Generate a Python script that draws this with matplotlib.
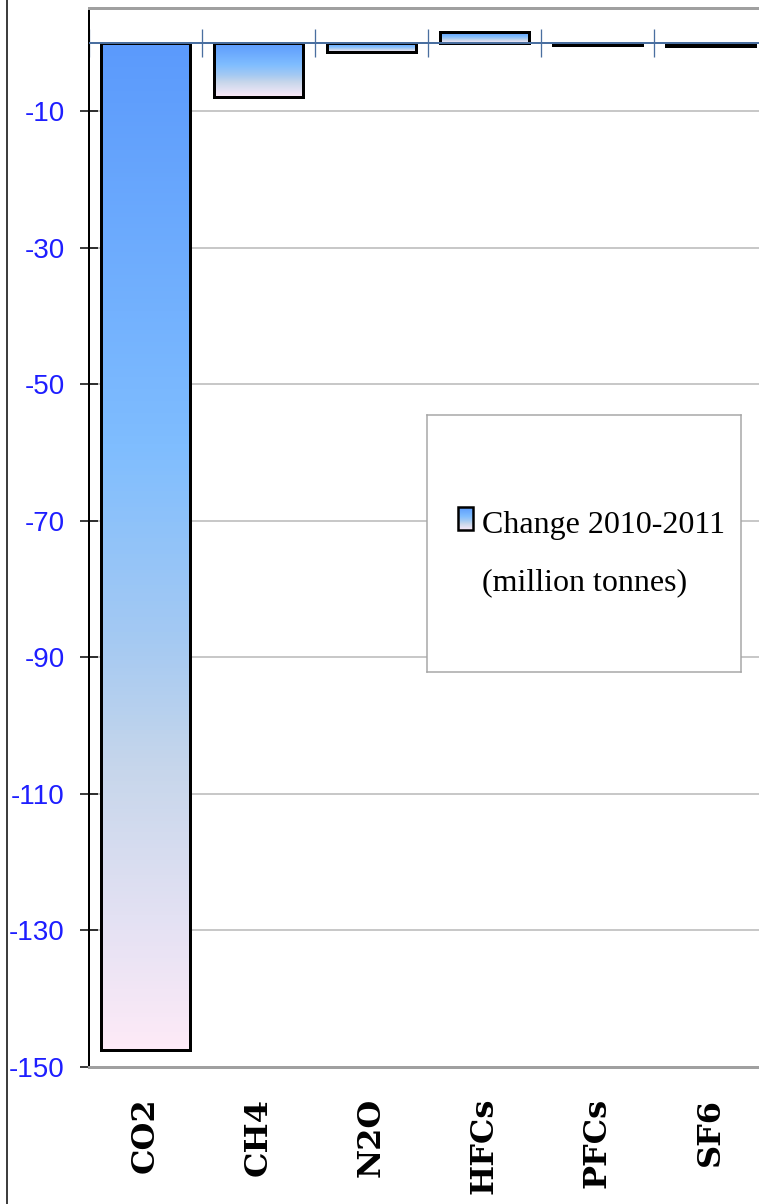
import numpy as np
import matplotlib
matplotlib.use("Agg")
import matplotlib.pyplot as plt
from matplotlib.colors import LinearSegmentedColormap
from matplotlib.lines import Line2D

# ---- data ----
gases = ["CO2", "CH4", "N2O", "HFCs", "PFCs", "SF6"]
change = [-147.5, -7.9, -1.3, 1.6, -0.3, -0.5]
yticks = [-10, -30, -50, -70, -90, -110, -130, -150]
ytick_labels = ["-10", "-30", "-50", "-70", "-90", "-110", "-130", "-150"]
legend_label = "Change 2010-2011\n(million tonnes)"

W, H = 759, 1204
DPI = 100
fig = plt.figure(figsize=(W / DPI, H / DPI), dpi=DPI)
fig.patch.set_facecolor("white")

def px(v):  # pixels -> points
    return v * 72.0 / DPI

ymin, ymax = -150, 5.1
ax_left, ax_right, ax_top, ax_bot = 89, 767, 8, 1067
ax = fig.add_axes([ax_left / W, 1 - ax_bot / H, (ax_right - ax_left) / W, (ax_bot - ax_top) / H])

grad_cmap = LinearSegmentedColormap.from_list(
    "bargrad",
    [(0.0, "#5B9AFC"), (0.40, "#7FBDFF"), (0.60, "#A6CAF2"),
     (0.72, "#C6D6EB"), (0.87, "#E3E1F3"), (1.0, "#FDEAF7")])
grad = np.linspace(0, 1, 256).reshape(-1, 1)

x = np.arange(len(gases))
bars = ax.bar(x, change, width=0.78, facecolor="none", edgecolor="black",
              linewidth=px(3), zorder=3)
for b in bars:
    x0, y0 = b.get_x(), b.get_y()
    w, h = b.get_width(), b.get_height()
    top, bot = max(y0, y0 + h), min(y0, y0 + h)
    im = ax.imshow(grad, extent=[x0, x0 + w, bot, top], origin="upper",
                   aspect="auto", cmap=grad_cmap, zorder=2, interpolation="bilinear")
    im.set_clip_path(b)

ax.set_xlim(-0.5, len(gases) - 0.5)
ax.set_ylim(ymin, ymax)

# y axis
ax.set_yticks(yticks)
ax.set_yticklabels(ytick_labels, color="#1E1EFF", fontsize=20,
                   family=["Liberation Sans", "DejaVu Sans"])
ax.tick_params(axis="y", direction="inout", length=px(18), width=px(1.5),
               color="black", pad=11)
ax.yaxis.grid(True, color="#C8C8C8", linewidth=px(2), zorder=0)
ax.set_axisbelow(True)

# x axis labels at bottom
ax.set_xticks(x)
ax.set_xticklabels(gases, rotation=90, fontsize=23, fontweight="bold",
                   family="DejaVu Serif")
ax.tick_params(axis="x", length=0, pad=22)

# spines
ax.spines["left"].set_color("black")
ax.spines["left"].set_linewidth(px(2))
for s in ("top", "bottom", "right"):
    ax.spines[s].set_color("#A0A0A0")
    ax.spines[s].set_linewidth(px(3))

# zero axis line with category-boundary ticks
ax.axhline(0, color="#4A6FA0", linewidth=px(2), zorder=4)
zero_loc = (0 - ymin) / (ymax - ymin)
sec = ax.secondary_xaxis(zero_loc)
sec.set_xticks(np.arange(-0.5, len(gases), 1.0))
sec.set_xticklabels([])
sec.tick_params(axis="x", direction="inout", length=px(27), width=px(1.3),
                color="#4A6FA0")
for s in sec.spines.values():
    s.set_visible(False)

# legend box (manual)
lx0, lx1, ly0, ly1 = 427, 741, 415, 672
lax = fig.add_axes([lx0 / W, 1 - ly1 / H, (lx1 - lx0) / W, (ly1 - ly0) / H])
lax.set_xticks([])
lax.set_yticks([])
lax.set_facecolor("white")
for s in lax.spines.values():
    s.set_color("#A6A6A6")
    s.set_linewidth(px(1.5))
lax.imshow(grad, extent=[31, 46, 115, 92], origin="upper", aspect="auto",
           cmap=grad_cmap, zorder=2)
lax.add_patch(plt.Rectangle((31, 92), 15, 23, facecolor="none",
                            edgecolor="black", linewidth=px(2.5), zorder=3))
lax.set_xlim(0, lx1 - lx0)
lax.set_ylim(ly1 - ly0, 0)
lines = legend_label.split("\n")
lax.text(55, 118, lines[0], fontsize=23, family="Liberation Serif",
         va="baseline", ha="left")
lax.text(55, 175, lines[1], fontsize=23, family="Liberation Serif",
         va="baseline", ha="left")

# outer chart border on the left
fig.add_artist(Line2D([7 / W, 7 / W], [0, 1], transform=fig.transFigure,
                      color="black", linewidth=px(1.5)))

fig.savefig("out.png", dpi=DPI)
